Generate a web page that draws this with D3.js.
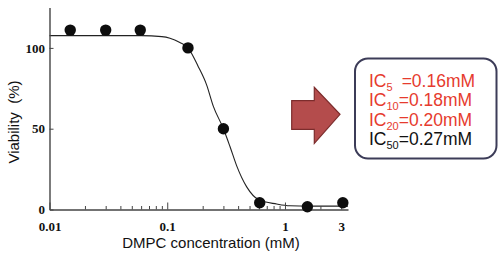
<!DOCTYPE html>
<html lang="en">
  <head>
    <meta charset="UTF-8" />
    <title>viability</title>
    <script src="https://cdn.jsdelivr.net/npm/d3@7/dist/d3.min.js"></script>
    <style>
      body {
        margin: 0;
        background: #fff;
      }
      .tick text {
        font-family: "Liberation Serif", "Times New Roman", serif;
        font-weight: bold;
        font-size: 13px;
        fill: #111;
      }
      .title {
        font-family: "Liberation Sans", Arial, sans-serif;
        font-size: 15px;
        fill: #111;
      }
      .ic {
        font-family: "Liberation Sans", Arial, sans-serif;
        font-size: 17.5px;
      }
    </style>
  </head>
  <body>
    <div id="wrapper"></div>
    <script>
      // measured points (mM, % viability)
      const concentrations = [0.015, 0.03, 0.059, 0.15, 0.3, 0.61, 1.55, 3.1];
      const viability = [111, 111, 111, 100, 50, 4.2, 1.7, 4.2];

      // fitted curve
      const curveX = [0.01, 0.06, 0.09, 0.1055, 0.128, 0.15, 0.1835, 0.2163,
        0.246, 0.3, 0.341, 0.389, 0.473, 0.6, 0.85, 1.1, 1.6, 3.43];
      const curveY = [107.6, 107.6, 107, 106, 103.3, 100, 88.4, 77,
        64, 50, 39, 27, 14, 6, 3.4, 2.3, 2.1, 2.1];

      const xTickValues = [0.01, 0.1, 1, 3];
      const xTickLabels = ["0.01", "0.1", "1", "3"];
      const xMinorTicks = [0.02, 0.03, 0.04, 0.05, 0.06, 0.07, 0.08, 0.09,
        0.2, 0.3, 0.4, 0.5, 0.6, 0.7, 0.8, 0.9, 2];
      const yTickValues = [0, 50, 100];

      const icLabels = ["5", "10", "20", "50"];
      const icValues = ["0.16mM", "0.18mM", "0.20mM", "0.27mM"];
      const icColors = ["#e63b2e", "#e63b2e", "#e63b2e", "#111"];

      const width = 500;
      const height = 255;

      const svg = d3
        .select("#wrapper")
        .append("svg")
        .attr("width", width)
        .attr("height", height);

      const xScale = d3.scaleLog().domain([0.01, 3.43]).range([49.5, 348]);
      const yScale = d3.scaleLinear().domain([0, 125]).range([209.5, 7.5]);

      // curve
      const curveData = curveX.map((d, i) => ({ x: d, y: curveY[i] }));
      const lineGenerator = d3
        .line()
        .x((d) => xScale(d.x))
        .y((d) => yScale(d.y))
        .curve(d3.curveMonotoneX);
      svg
        .append("path")
        .attr("d", lineGenerator(curveData))
        .attr("fill", "none")
        .attr("stroke", "#222")
        .attr("stroke-width", 1.1);

      // minor x ticks
      svg
        .append("g")
        .attr("transform", `translate(0,${yScale(0)})`)
        .call(
          d3.axisBottom(xScale).tickValues(xMinorTicks).tickSize(-3.5).tickFormat("")
        )
        .call((g) => g.select(".domain").remove())
        .selectAll("line")
        .attr("stroke", "#444");

      // x axis
      const xAxis = svg
        .append("g")
        .attr("transform", `translate(0,${yScale(0)})`)
        .call(
          d3
            .axisBottom(xScale)
            .tickValues(xTickValues)
            .tickFormat((d, i) => xTickLabels[i])
            .tickSizeInner(-7)
            .tickSizeOuter(0)
            .tickPadding(12)
        );
      xAxis.select(".domain").attr("stroke", "#444").attr("stroke-width", 1.4);
      xAxis.selectAll("line").attr("stroke", "#444");

      // y axis
      const yAxis = svg
        .append("g")
        .attr("transform", `translate(${xScale(0.01)},0)`)
        .call(
          d3
            .axisLeft(yScale)
            .tickValues(yTickValues)
            .tickSizeInner(-4)
            .tickSizeOuter(0)
            .tickPadding(4.5)
        );
      yAxis.select(".domain").attr("stroke", "#444").attr("stroke-width", 1.4);
      yAxis.selectAll("line").attr("stroke", "#444");

      // points
      svg
        .append("g")
        .selectAll("circle")
        .data(concentrations)
        .join("circle")
        .attr("cx", (d) => xScale(d))
        .attr("cy", (d, i) => yScale(viability[i]))
        .attr("r", 5.7)
        .attr("fill", "#0d0d0d");

      // axis titles
      svg
        .append("text")
        .attr("class", "title")
        .attr("x", 211)
        .attr("y", 248)
        .attr("text-anchor", "middle")
        .text("DMPC concentration (mM)");

      svg
        .append("text")
        .attr("class", "title")
        .attr("transform", "translate(19,122) rotate(-90)")
        .attr("text-anchor", "middle")
        .text("Viability\u00a0\u00a0(%)");

      // arrow
      const arrow = [
        [291.7, 100.7], [314.3, 100.7], [314.3, 87.3], [340, 114.3],
        [314.3, 143.3], [314.3, 129.3], [291.7, 129.3],
      ];
      svg
        .append("path")
        .attr("d", d3.line()(arrow) + "Z")
        .attr("fill", "#b44c4c")
        .attr("stroke", "#7c2c2c")
        .attr("stroke-width", 1.2);

      // IC box
      svg
        .append("rect")
        .attr("x", 355)
        .attr("y", 58.5)
        .attr("width", 141.5)
        .attr("height", 100)
        .attr("rx", 13)
        .attr("fill", "#fff")
        .attr("stroke", "#3c3c58")
        .attr("stroke-width", 2);

      icLabels.forEach((lab, i) => {
        const t = svg
          .append("text")
          .attr("class", "ic")
          .attr("x", 369)
          .attr("y", 86.7 + i * 19.4)
          .attr("fill", icColors[i]);
        t.append("tspan").text("IC");
        t.append("tspan")
          .attr("dy", 4)
          .attr("font-size", "11px")
          .text(lab);
        t.append("tspan")
          .attr("dy", -4)
          .attr("dx", lab.length === 1 ? 9 : 0)
          .text("=" + icValues[i]);
      });
    </script>
  </body>
</html>
